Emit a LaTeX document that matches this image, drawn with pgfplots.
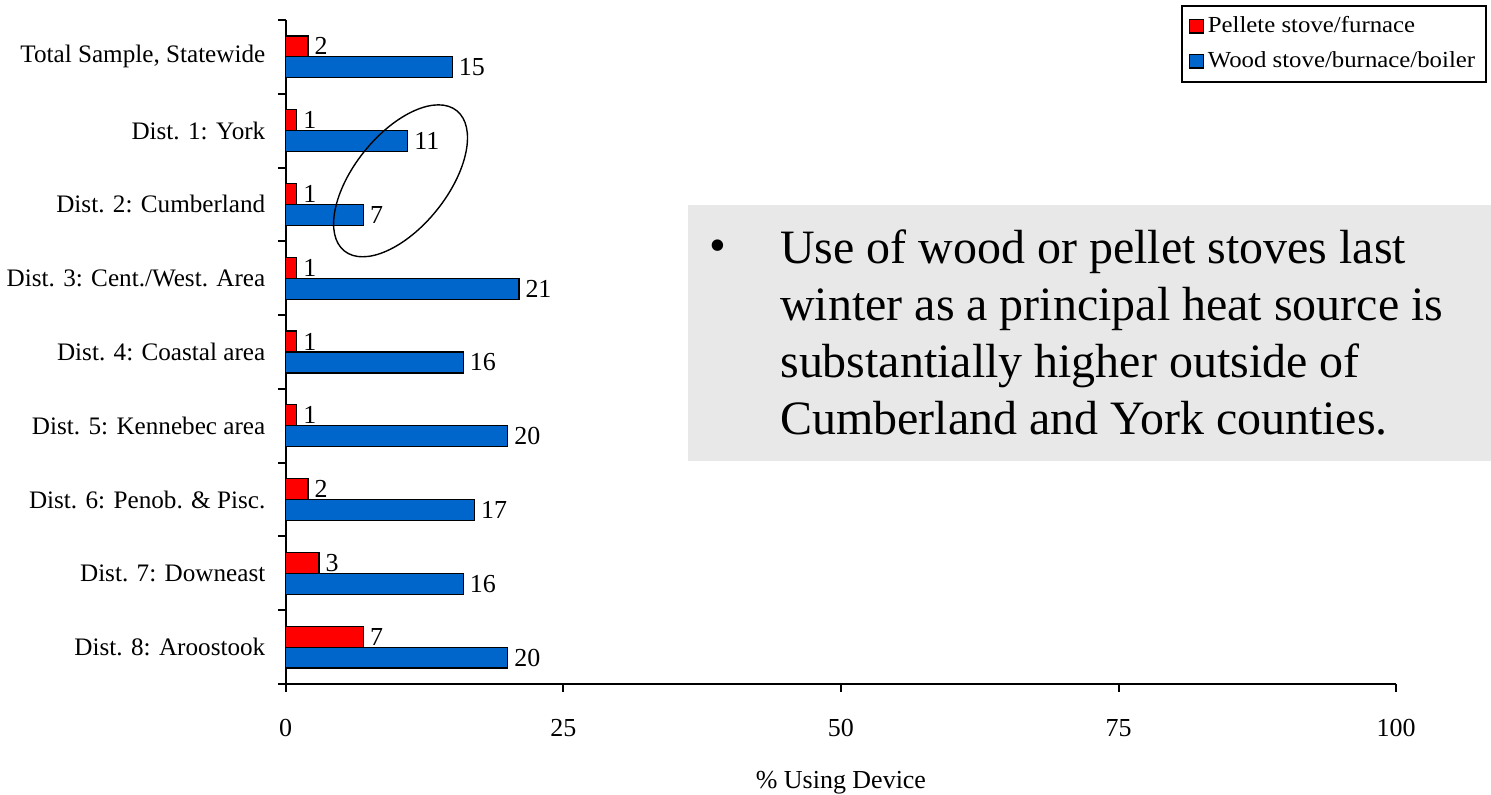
\documentclass[border=0pt]{standalone}
\usepackage{pgfplots}
\pgfplotsset{compat=1.18}
\usepackage{pgfplotstable}
\usetikzlibrary{shapes.geometric}
\usepackage{fontspec}
\setmainfont{Liberation Serif}
\newfontfamily\legfont{Liberation Serif}[FakeStretch=1.08]
\definecolor{pred}{RGB}{255,0,0}
\definecolor{pblue}{RGB}{0,102,204}
\definecolor{boxgray}{RGB}{232,232,232}

\pgfplotstableread{
y red blue
8 2 15
7 1 11
6 1 7
5 1 21
4 1 16
3 1 20
2 2 17
1 3 16
0 7 20
}\datatable

\begin{document}
\begin{tikzpicture}
\path (-142pt,-55pt) rectangle (603.5pt,342.5pt);
\begin{axis}[
  at={(0,0)}, anchor=south west,
  scale only axis, width=556pt, height=332.5pt,
  xmin=0, xmax=100, ymin=-0.5, ymax=8.5,
  xbar, bar width=10.5pt,
  axis x line*=bottom, axis y line*=left,
  axis line style={line width=1pt, black},
  /pgf/number format/assume math mode=true,
  xtick={0,25,50,75,100},
  ytick={0,...,8},
  yticklabels={Dist. 8: Aroostook, Dist. 7: Downeast, Dist. 6: Penob. \& Pisc., Dist. 5: Kennebec area, Dist. 4: Coastal area, Dist. 3: Cent./West. Area, Dist. 2: Cumberland, Dist. 1: York, {Total Sample, Statewide}},
  minor ytick={-0.5,0.5,...,8.5},
  tick align=outside,
  major tick length=4pt, minor tick length=4pt,
  major y tick style={draw=none},
  minor y tick style={line width=1pt, black},
  major x tick style={line width=1pt, black},
  ticklabel style={font=\fontsize{13}{15}\selectfont},
  xticklabel style={yshift=-10pt},
  yticklabel style={font=\fontsize{12.6}{15}\selectfont, xshift=-2.7pt},
  xlabel={\% Using Device},
  xlabel style={font=\fontsize{13}{15}\selectfont, inner sep=0pt, yshift=-14pt},
  point meta=x,
  nodes near coords,
  nodes near coords style={font=\fontsize{13}{15}\selectfont, anchor=west, inner sep=3pt, black},
  legend style={at={(1.0818,1.0226)}, anchor=north east, draw=black, line width=0.8pt,
    font=\legfont\fontsize{11.5}{13}\selectfont, row sep=4pt, inner xsep=3.5pt, inner ysep=3.5pt},
  legend cell align=left,
  legend image code/.code={\draw[#1,line width=0.6pt] (0pt,-3.3pt) rectangle (7pt,3.3pt);},
  clip=false,
]
\fill[boxgray] (rel axis cs:0.3624,0.3353) rectangle (rel axis cs:1.0854,0.7218);
\addplot[fill=pred, draw=black, line width=0.6pt, bar shift=5.25pt] table[x=red,y=y]{\datatable};
\addplot[fill=pblue, draw=black, line width=0.6pt, bar shift=-5.25pt] table[x=blue,y=y]{\datatable};
\legend{Pellete stove/furnace, Wood stove/burnace/boiler}
\node[draw, ellipse, line width=0.7pt, inner sep=0pt, minimum width=90pt, minimum height=46.7pt, rotate=51.3] at (axis cs:10.34,6.32) {};
\node[anchor=north west, inner sep=0pt, align=left, font=\fontsize{24}{28.5}\selectfont] at (rel axis cs:0.4451,0.6842) {Use of wood or pellet stoves last\\winter as a principal heat source is\\substantially higher outside of\\Cumberland and York counties.};
\node[anchor=base, inner sep=0pt, font=\fontsize{24}{28.5}\selectfont] at (rel axis cs:0.3894,0.636) {\textbullet};
\end{axis}
\end{tikzpicture}
\end{document}
